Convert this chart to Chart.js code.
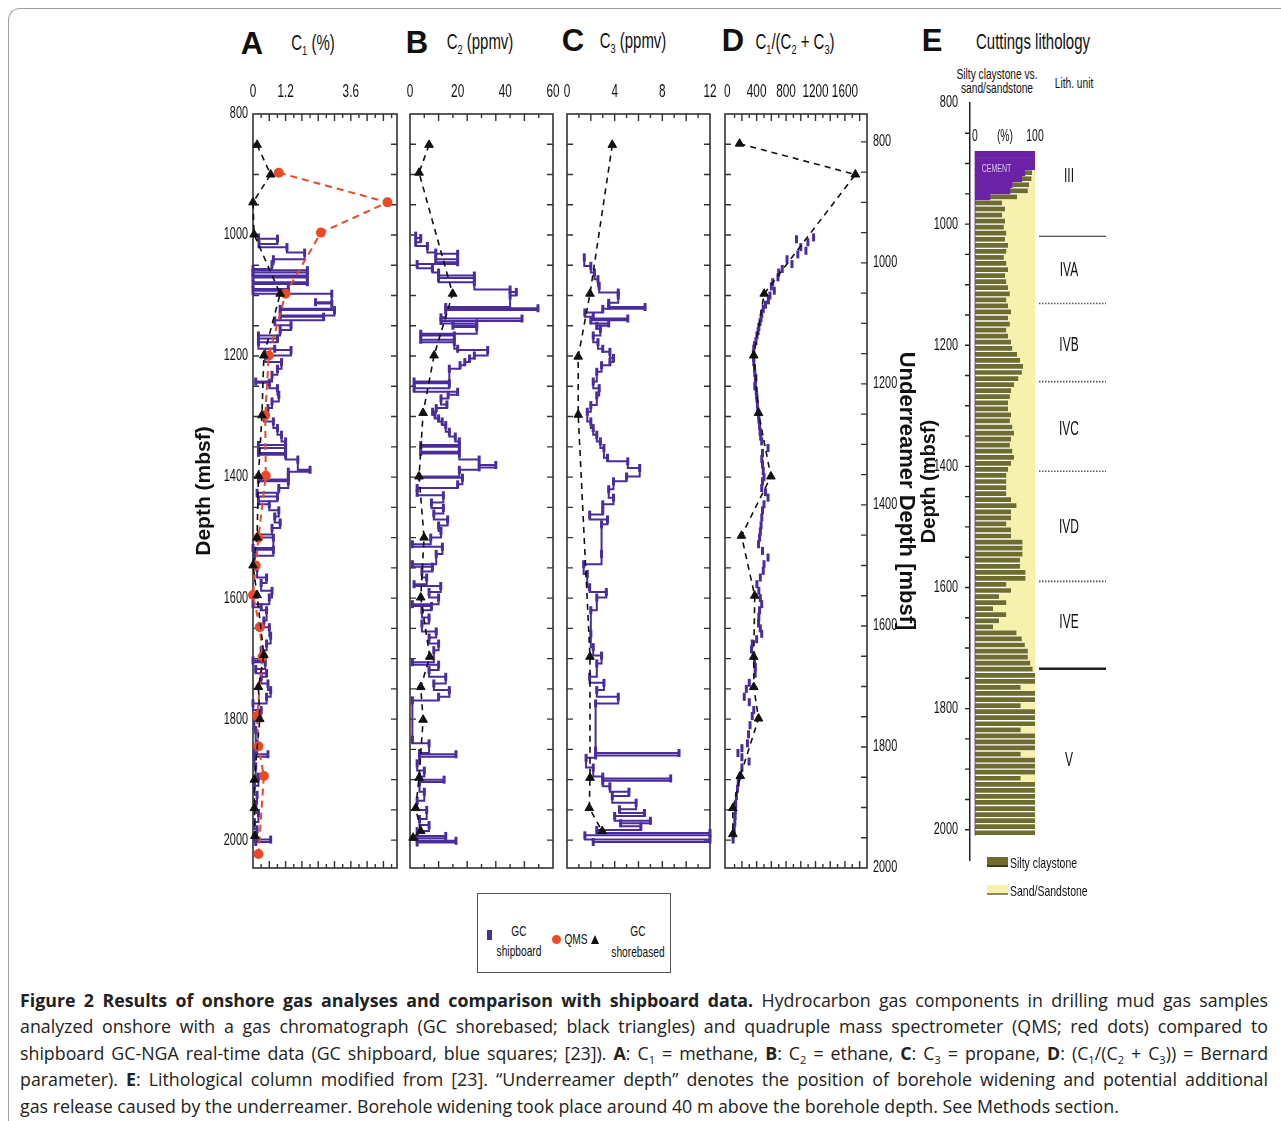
<!DOCTYPE html>
<html>
<head>
<meta charset="utf-8">
<script src="https://cdn.jsdelivr.net/npm/chart.js@4.4.1/dist/chart.umd.min.js"></script>
<style>
  body { margin: 0; background: #fff; }
  #page { position: relative; width: 1281px; height: 1121px; overflow: hidden; background: #fff;
          font-family: "Liberation Sans", Arial, sans-serif; color: #111; }
  #page canvas { position: absolute; }
  #outer { position: absolute; left: 8px; top: 8px; width: 1320px; height: 1200px;
           border-left: 1.5px solid #a0a0a0; border-top: 1.5px solid #a0a0a0; border-top-left-radius: 12px; }
  .t { position: absolute; white-space: nowrap; transform: translate(-50%, -50%) scaleX(0.68); line-height: 1; }
  .l { position: absolute; white-space: nowrap; transform-origin: left center; transform: translateY(-50%) scaleX(0.7); line-height: 1; }
  .letter { font-weight: bold; font-size: 31px; transform: translate(-50%, -50%); }
  .head { font-size: 22px; }
  .head sub, .cap sub { font-size: 62%; vertical-align: -0.35em; line-height: 0; }
  .sm { font-size: 15px; }
  #legend { position: absolute; left: 477px; top: 893px; width: 192px; height: 78px; border: 1.5px solid #555; }
  .sw { position: absolute; }
  .cap { position: absolute; left: 20px; width: 1248px; font-family: "Open Sans", sans-serif; font-size: 17.8px;
         white-space: nowrap; text-align: justify; text-align-last: justify; color: #222; line-height: 20px; }
  .cap.last { text-align-last: left; }
</style>
</head>
<body>
<div id="page">
  <div id="outer"></div>

  <div class="t letter" style="left:252px;top:43px">A</div>
  <div class="t head" style="left:313px;top:43px">C<sub>1</sub> (%)</div>
  <div class="t letter" style="left:417px;top:42px">B</div>
  <div class="t head" style="left:480px;top:42px">C<sub>2</sub> (ppmv)</div>
  <div class="t letter" style="left:573px;top:40px">C</div>
  <div class="t head" style="left:633px;top:41px">C<sub>3</sub> (ppmv)</div>
  <div class="t letter" style="left:733px;top:40px">D</div>
  <div class="t head" style="left:795px;top:42px">C<sub>1</sub>/(C<sub>2</sub> + C<sub>3</sub>)</div>
  <div class="t letter" style="left:932px;top:40px">E</div>
  <div class="t head" style="left:1033px;top:42px">Cuttings lithology</div>
  <div class="t sm" style="left:997px;top:73px">Silty claystone vs.</div>
  <div class="t sm" style="left:997px;top:87px">sand/sandstone</div>
  <div class="t sm" style="left:1074px;top:82px">Lith. unit</div>

  <canvas id="cA" width="222" height="815" style="left:190px;top:60px"></canvas>
  <canvas id="cB" width="173" height="815" style="left:395px;top:60px"></canvas>
  <canvas id="cC" width="173" height="815" style="left:552px;top:60px"></canvas>
  <canvas id="cD" width="210" height="815" style="left:710px;top:60px"></canvas>
  <canvas id="cE" width="220" height="802" style="left:900px;top:60px"></canvas>

  <div id="legend"></div>
  <div class="sw" style="left:487px;top:930px;width:5px;height:10px;background:#4a2c9d"></div>
  <div class="t sm" style="left:519px;top:930px">GC</div>
  <div class="t sm" style="left:519px;top:950px">shipboard</div>
  <div class="sw" style="left:552px;top:935px;width:9px;height:9px;border-radius:50%;background:#eb4a26"></div>
  <div class="t sm" style="left:576px;top:938px">QMS</div>
  <div class="sw" style="left:591px;top:935px;width:0;height:0;border-left:4.5px solid transparent;border-right:4.5px solid transparent;border-bottom:9px solid #111"></div>
  <div class="t sm" style="left:638px;top:930px">GC</div>
  <div class="t sm" style="left:638px;top:951px">shorebased</div>

  <div class="sw" style="left:987px;top:857px;width:21px;height:8px;background:#6f6c30;border-bottom:2px solid #3d3b18"></div>
  <div class="l sm" style="left:1010px;top:862px">Silty claystone</div>
  <div class="sw" style="left:987px;top:885px;width:21px;height:8px;background:#f6f2ae;border-bottom:2px solid #8d8a5a"></div>
  <div class="l sm" style="left:1010px;top:890px">Sand/Sandstone</div>

  <div class="cap" style="top:990px"><b>Figure 2 Results of onshore gas analyses and comparison with shipboard data.</b> Hydrocarbon gas components in drilling mud gas samples</div>
  <div class="cap" style="top:1016px">analyzed onshore with a gas chromatograph (GC shorebased; black triangles) and quadruple mass spectrometer (QMS; red dots) compared to</div>
  <div class="cap" style="top:1043px">shipboard GC-NGA real-time data (GC shipboard, blue squares; [23]). <b>A</b>: C<sub>1</sub> = methane, <b>B</b>: C<sub>2</sub> = ethane, <b>C</b>: C<sub>3</sub> = propane, <b>D</b>: (C<sub>1</sub>/(C<sub>2</sub> + C<sub>3</sub>)) = Bernard</div>
  <div class="cap" style="top:1069px">parameter). <b>E</b>: Lithological column modified from [23]. “Underreamer depth” denotes the position of borehole widening and potential additional</div>
  <div class="cap last" style="top:1096px">gas release caused by the underreamer. Borehole widening took place around 40 m above the borehole depth. See Methods section.</div>
</div>

<script>
// ---- data (depth in mbsf) ----
const depthLabels = [800, 1000, 1200, 1400, 1600, 1800, 2000];
const depthMin = 800, depthMax = 2046, underOffset = 46;

// A: C1 (%)
const aShipDepth = [1004, 1006, 1015, 1020, 1029, 1040, 1048, 1056, 1058, 1062, 1067, 1070, 1078, 1081, 1089, 1092, 1097, 1111, 1113, 1122, 1124, 1133, 1135, 1141, 1149, 1157, 1166, 1171, 1177, 1188, 1190, 1199, 1210, 1221, 1231, 1242, 1244, 1253, 1264, 1275, 1286, 1297, 1308, 1319, 1330, 1341, 1347, 1352, 1360, 1363, 1371, 1388, 1391, 1399, 1404, 1407, 1418, 1426, 1432, 1440, 1445, 1455, 1465, 1475, 1484, 1495, 1500, 1517, 1520, 1530, 1550, 1566, 1575, 1588, 1599, 1610, 1615, 1620, 1637, 1648, 1662, 1675, 1686, 1703, 1706, 1717, 1724, 1730, 1741, 1752, 1763, 1774, 1785, 1796, 1818, 1840, 1856, 1858, 1862, 1878, 1895, 1910, 1925, 1940, 1955, 1970, 1982, 1997, 1999, 2003];
const aShipC1 = [0.2, 0.9, 0.22, 1.25, 1.9, 0.75, 0.7, 0.0, 2.0, 0.0, 2.0, 0.0, 2.0, 0.0, 1.3, 0.0, 2.9, 2.3, 2.9, 1.0, 3.0, 1.0, 2.6, 0.8, 1.4, 1.0, 0.2, 0.9, 0.2, 0.8, 1.4, 0.45, 1.05, 0.9, 0.7, 0.1, 0.6, 0.9, 0.95, 0.7, 0.55, 0.4, 0.75, 0.9, 1.05, 1.2, 0.2, 1.2, 0.2, 1.2, 1.65, 2.1, 1.3, 1.3, 0.2, 1.3, 0.95, 0.15, 0.9, 0.2, 0.6, 0.95, 0.8, 1.0, 0.7, 0.2, 0.75, 0.0, 0.75, 0.05, 0.15, 0.5, 0.3, 0.7, 0.6, 0.0, 0.3, 0.5, 0.4, 0.6, 0.65, 0.5, 0.3, 0.0, 0.45, 0.1, 0.5, 0.3, 0.55, 0.65, 0.5, 0.0, 0.3, 0.05, 0.1, 0.15, 0.05, 0.55, 0.05, 0.1, 0.2, 0.05, 0.15, 0.1, 0.2, 0.05, 0.15, 0.05, 0.65, 0.1];
const aQmsDepth = [897, 946, 996, 1097, 1199, 1298, 1398, 1500, 1546, 1595, 1648, 1697, 1795, 1845, 1894, 2023];
const aQmsC1 = [0.95, 4.95, 2.5, 1.2, 0.58, 0.45, 0.47, 0.2, 0.1, 0.0, 0.25, 0.35, 0.15, 0.2, 0.4, 0.2];
const aShoreDepth = [851, 900, 946, 999, 1097, 1199, 1298, 1398, 1500, 1546, 1595, 1694, 1747, 1800, 1900, 1947, 1993];
const aShoreC1 = [0.15, 0.65, 0.0, 0.04, 1.0, 0.4, 0.33, 0.2, 0.15, 0.0, 0.15, 0.4, 0.2, 0.25, 0.05, 0.05, 0.07];

// B: C2 (ppmv)
const bShipDepth = [1001, 1005, 1012, 1018, 1029, 1031, 1040, 1045, 1048, 1055, 1062, 1067, 1071, 1078, 1090, 1094, 1100, 1119, 1121, 1124, 1136, 1138, 1142, 1146, 1150, 1152, 1163, 1166, 1173, 1177, 1188, 1190, 1199, 1204, 1210, 1215, 1221, 1242, 1245, 1253, 1259, 1264, 1270, 1280, 1286, 1292, 1297, 1303, 1308, 1314, 1325, 1333, 1341, 1347, 1350, 1358, 1361, 1371, 1380, 1384, 1388, 1399, 1401, 1412, 1418, 1426, 1430, 1442, 1451, 1460, 1470, 1480, 1489, 1500, 1511, 1515, 1527, 1544, 1548, 1556, 1566, 1577, 1580, 1590, 1599, 1610, 1613, 1620, 1632, 1642, 1655, 1665, 1675, 1686, 1706, 1710, 1719, 1730, 1741, 1752, 1763, 1769, 1834, 1840, 1856, 1858, 1862, 1873, 1885, 1895, 1900, 1904, 1920, 1935, 1950, 1965, 1975, 1985, 1993, 1997, 2001, 2004];
const bShipC2 = [2.4, 4.5, 2.4, 7.3, 10.8, 20, 10.8, 20, 3.0, 9.4, 12, 27, 12, 27, 42, 44.6, 42, 15, 53.7, 15, 13, 47, 13, 28, 18, 28, 4.5, 18.6, 4.5, 18.6, 20, 32.6, 27, 25, 23, 21, 16.5, 1.7, 16.5, 1.7, 20, 16, 13, 15.5, 11, 9.5, 10.5, 12, 13.5, 15, 16.5, 19, 20.7, 4.5, 20.7, 4.5, 20.7, 29, 36, 29, 20.7, 3.8, 22, 20, 3, 3, 14, 9, 14, 10, 15.8, 12, 13, 8.7, 1, 13.6, 11, 1, 9.4, 5, 7, 1.7, 12.9, 8, 12, 1, 9, 5, 8, 5, 11, 8, 12, 10, 1, 12, 8, 15, 10, 16.5, 12, 1, 1, 8, 4, 19.3, 4, 3, 6, 4, 14.3, 4, 6, 3, 7, 4, 8, 3, 15, 3, 19.3, 3];
const bShoreDepth = [851, 897, 1097, 1199, 1294, 1399, 1500, 1599, 1697, 1747, 1801, 1897, 1947, 1985, 1996];
const bShoreC2 = [8, 3.8, 17.9, 10.1, 5.5, 3.8, 5.9, 4.5, 8.3, 4.5, 5.5, 3.8, 2.4, 4.5, 1.3];

// C: C3 (ppmv)
const cShipDepth = [1037, 1051, 1062, 1073, 1084, 1095, 1100, 1112, 1117, 1119, 1122, 1128, 1135, 1138, 1141, 1146, 1150, 1155, 1166, 1177, 1188, 1193, 1203, 1210, 1215, 1226, 1242, 1253, 1265, 1281, 1292, 1308, 1319, 1330, 1341, 1352, 1368, 1374, 1385, 1399, 1407, 1420, 1434, 1445, 1456, 1462, 1470, 1478, 1527, 1544, 1560, 1582, 1590, 1599, 1620, 1659, 1681, 1695, 1708, 1730, 1740, 1752, 1763, 1774, 1852, 1856, 1860, 1864, 1880, 1895, 1898, 1902, 1911, 1920, 1927, 1938, 1949, 1955, 1960, 1968, 1972, 1977, 1983, 1988, 1992, 1999, 2003];
const cShipC3 = [1.45, 2.0, 2.3, 2.6, 2.7, 4.3, 4.3, 3.5, 3.5, 6.55, 3.0, 1.5, 2.2, 5.1, 2.0, 3.5, 2.5, 2.8, 2.2, 2.6, 3.0, 3.6, 3.9, 3.6, 2.9, 2.5, 2.2, 2.7, 2.5, 2.0, 1.7, 2.0, 2.2, 2.5, 2.8, 3.1, 3.4, 5.1, 6.1, 5.0, 3.9, 3.5, 3.9, 3.0, 3.0, 1.9, 3.4, 2.9, 2.9, 1.4, 1.7, 1.9, 3.3, 2.5, 2.0, 2.0, 2.2, 2.9, 2.5, 1.9, 3.1, 2.5, 4.3, 2.4, 2.4, 9.4, 2.4, 1.6, 2.2, 3.0, 8.7, 3.0, 3.6, 5.2, 3.8, 5.8, 4.4, 6.5, 4.0, 7.0, 4.5, 6.2, 2.5, 12, 1.5, 12, 2.2];
const cShoreDepth = [851, 1097, 1201, 1297, 1697, 1897, 1947, 1985];
const cShoreC3 = [3.8, 1.93, 0.94, 0.94, 1.93, 1.93, 1.87, 2.95];

// D: C1/(C2 + C3)
const dShipDepth = [1004, 1007, 1012, 1020, 1026, 1032, 1040, 1048, 1056, 1062, 1070, 1078, 1085, 1092, 1100, 1108, 1115, 1122, 1130, 1137, 1144, 1152, 1159, 1166, 1175, 1182, 1188, 1196, 1203, 1210, 1220, 1228, 1236, 1242, 1250, 1258, 1265, 1270, 1280, 1290, 1297, 1305, 1315, 1325, 1333, 1341, 1352, 1360, 1370, 1379, 1390, 1400, 1407, 1418, 1425, 1434, 1445, 1455, 1467, 1480, 1490, 1500, 1511, 1522, 1533, 1544, 1555, 1566, 1577, 1588, 1600, 1610, 1620, 1631, 1642, 1650, 1659, 1668, 1675, 1685, 1695, 1705, 1714, 1725, 1740, 1750, 1763, 1772, 1785, 1795, 1810, 1825, 1840, 1848, 1856, 1863, 1870, 1880, 1895, 1905, 1915, 1927, 1940, 1950, 1960, 1971, 1982, 1990, 1999];
const dShipRatio = [1174, 942, 1097, 1000, 1070, 960, 813, 880, 748, 700, 690, 619, 600, 640, 581, 560, 520, 490, 470, 460, 447, 430, 420, 404, 390, 370, 361, 355, 360, 361, 370, 375, 390, 383, 375, 395, 400, 404, 410, 415, 426, 430, 440, 447, 455, 469, 555, 480, 470, 480, 490, 500, 480, 469, 520, 555, 500, 480, 470, 460, 450, 440, 426, 480, 555, 500, 490, 450, 404, 430, 450, 469, 440, 430, 426, 450, 469, 400, 340, 330, 360, 370, 383, 380, 300, 260, 232, 300, 361, 340, 310, 290, 275, 200, 146, 200, 297, 200, 168, 150, 140, 125, 115, 110, 108, 103, 95, 88, 80];
const dShoreDepth = [849, 900, 1097, 1199, 1294, 1399, 1497, 1596, 1697, 1747, 1799, 1894, 1947, 1990];
const dShoreRatio = [168, 1742, 503, 361, 426, 594, 194, 374, 361, 361, 426, 178, 77, 77];

// E: cuttings lithology (% of sample)
const lithDepth = [885, 895, 905, 915, 925, 935, 945, 955, 965, 975, 985, 995, 1005, 1015, 1025, 1035, 1045, 1055, 1065, 1075, 1085, 1095, 1105, 1115, 1125, 1135, 1145, 1155, 1165, 1175, 1185, 1195, 1205, 1215, 1225, 1235, 1245, 1255, 1265, 1275, 1285, 1295, 1305, 1315, 1325, 1335, 1345, 1355, 1365, 1375, 1385, 1395, 1405, 1415, 1425, 1435, 1445, 1455, 1465, 1475, 1485, 1495, 1505, 1515, 1525, 1535, 1545, 1555, 1565, 1575, 1585, 1595, 1605, 1615, 1625, 1635, 1645, 1655, 1665, 1675, 1685, 1695, 1705, 1715, 1725, 1735, 1745, 1755, 1765, 1775, 1785, 1795, 1805, 1815, 1825, 1835, 1845, 1855, 1865, 1875, 1885, 1895, 1905, 1915, 1925, 1935, 1945, 1955, 1965, 1975, 1985, 1995, 2005];
const lithCement = [100, 100, 100, 83, 78, 62, 58, 25, 0, 0, 0, 0, 0, 0, 0, 0, 0, 0, 0, 0, 0, 0, 0, 0, 0, 0, 0, 0, 0, 0, 0, 0, 0, 0, 0, 0, 0, 0, 0, 0, 0, 0, 0, 0, 0, 0, 0, 0, 0, 0, 0, 0, 0, 0, 0, 0, 0, 0, 0, 0, 0, 0, 0, 0, 0, 0, 0, 0, 0, 0, 0, 0, 0, 0, 0, 0, 0, 0, 0, 0, 0, 0, 0, 0, 0, 0, 0, 0, 0, 0, 0, 0, 0, 0, 0, 0, 0, 0, 0, 0, 0, 0, 0, 0, 0, 0, 0, 0, 0, 0, 0, 0, 0];
const lithClay = [0, 0, 0, 12, 16, 28, 30, 45, 45, 50, 45, 50, 48, 52, 50, 55, 52, 48, 52, 55, 50, 52, 55, 58, 52, 55, 60, 55, 58, 52, 55, 60, 62, 70, 75, 80, 78, 72, 65, 60, 58, 55, 55, 60, 58, 62, 65, 60, 58, 62, 65, 60, 55, 52, 52, 52, 52, 60, 69, 60, 60, 52, 60, 60, 79, 79, 79, 75, 75, 84, 84, 52, 60, 40, 52, 30, 52, 40, 30, 69, 78, 83, 88, 88, 92, 96, 100, 100, 76, 100, 100, 76, 100, 100, 100, 76, 100, 100, 100, 76, 100, 100, 100, 76, 100, 100, 100, 100, 100, 100, 100, 100, 100];
const pctTicks = [0, 50, 100];
const pctLabels = ['0', '(%)', '100'];
const unitNames = ['III', 'IVA', 'IVB', 'IVC', 'IVD', 'IVE', 'V'];
const unitMid = [921, 1076, 1200, 1339, 1501, 1658, 1886];
const unitTop = [1020, 1131, 1260, 1408, 1590, 1734];
const unitLine = ['solid', 'dot', 'dot', 'dot', 'dot', 'thick'];

// ---- styling ----
const SANS = '"Liberation Sans", Arial, sans-serif';
const BLUE = '#4a2c9d', RED = '#eb4a26', BLACK = '#111111';
const PURPLE = '#6b22a6', OLIVE = '#6f6c30', SAND = '#f6f2ae';
Chart.defaults.font.family = SANS;
Chart.defaults.color = '#111';

function xy(depths, values) {
    return depths.map((d, i) => ({ x: values[i], y: d }));
}

// condensed text, like the figure's narrow face
function narrowText(ctx, text, x, y, align, size, sx, color) {
    ctx.save();
    ctx.translate(x, y);
    ctx.scale(sx, 1);
    ctx.font = size + 'px ' + SANS;
    ctx.fillStyle = color || '#111';
    ctx.textAlign = align;
    ctx.textBaseline = 'middle';
    ctx.fillText(text, 0, 0);
    ctx.restore();
}

// tick labels of every shown axis, drawn narrow at the scale's own tick positions
const narrowTicks = {
    id: 'narrowTicks',
    afterDraw(chart) {
        const { ctx, chartArea: a } = chart;
        Object.values(chart.scales).forEach(s => {
            if (!s.options.display) return;
            const gap = s.options.ticks.padding;
            s.ticks.forEach(t => {
                const p = s.getPixelForValue(t.value), txt = String(t.value);
                if (s.position === 'top') narrowText(ctx, txt, p, a.top - gap, 'center', 19, 0.62);
                else if (s.position === 'left') narrowText(ctx, txt, a.left - gap, p, 'right', 16, 0.68);
                else if (s.position === 'right') narrowText(ctx, txt, a.right + gap, p, 'left', 16, 0.68);
            });
        });
    }
};

function shoreSet(depths, values) {
    return {
        label: 'GC shorebased', data: xy(depths, values), showLine: true, clip: false,
        borderColor: BLACK, borderWidth: 1.6, borderDash: [6, 5],
        pointStyle: 'triangle', pointRadius: 5, pointBackgroundColor: BLACK, pointBorderColor: BLACK, pointBorderWidth: 1
    };
}

function shipSet(depths, values, withLine) {
    return {
        label: 'GC shipboard', data: xy(depths, values), showLine: withLine, stepped: withLine ? 'after' : false, clip: false,
        borderColor: BLUE, borderWidth: 2,
        pointStyle: 'line', pointRotation: 90, pointRadius: 4, pointBorderColor: BLUE, pointBorderWidth: 3
    };
}

// box round each plot, with inward tick marks
const framePlugin = {
    id: 'frame',
    beforeDatasetsDraw(chart, args, o) {
        const { ctx, chartArea: a, scales } = chart;
        const x = scales.x, yl = scales.y, yr = scales[o.right];
        ctx.save();
        ctx.strokeStyle = '#333';
        ctx.lineWidth = 1.6;
        ctx.strokeRect(a.left, a.top, a.right - a.left, a.bottom - a.top);
        ctx.lineWidth = 1.4;
        ctx.beginPath();
        for (let d = 850; d < yl.max; d += 50) {
            const p = yl.getPixelForValue(d);
            ctx.moveTo(a.left, p); ctx.lineTo(a.left + 6, p);
        }
        for (let d = Math.ceil(yr.min / 50) * 50; d < yr.max; d += 50) {
            const p = yr.getPixelForValue(d);
            if (p < a.top + 3) continue;
            ctx.moveTo(a.right, p); ctx.lineTo(a.right - 6, p);
        }
        let k = 1;
        for (let v = o.xStep; v < x.max - o.xStep * 0.3; v += o.xStep, k++) {
            const p = x.getPixelForValue(v), len = k % 2 ? 4 : 7;
            ctx.moveTo(p, a.top); ctx.lineTo(p, a.top + len);
            ctx.moveTo(p, a.bottom); ctx.lineTo(p, a.bottom - len);
        }
        ctx.stroke();
        ctx.restore();
    }
};

function makePanel(id, opt) {
    const scales = {
        x: {
            type: 'linear', position: 'top', min: opt.xMin, max: opt.xMax,
            grid: { display: false }, border: { display: false },
            ticks: { display: false, padding: 22 },
            afterBuildTicks: ax => { ax.ticks = opt.xTicks.map(v => ({ value: v })); },
            afterFit: ax => { ax.height = 54; }
        },
        y: {
            type: 'linear', min: depthMin, max: depthMax, reverse: true, display: !!opt.leftLabels,
            grid: { display: false }, border: { display: false },
            ticks: { display: false, padding: 5 },
            afterBuildTicks: ax => { ax.ticks = depthLabels.map(v => ({ value: v })); },
            afterFit: ax => { ax.width = opt.leftLabels ? 63 : 0; },
            title: { display: true, text: 'Depth (mbsf)', font: { family: SANS, size: 21, weight: 'bold' }, padding: { top: 2 } }
        }
    };
    if (opt.under) {
        scales.yu = {
            type: 'linear', position: 'right', min: depthMin - underOffset, max: depthMax - underOffset, reverse: true,
            grid: { display: false }, border: { display: false },
            ticks: { display: false, padding: 6 },
            afterBuildTicks: ax => { ax.ticks = depthLabels.map(v => ({ value: v })); },
            afterFit: ax => { ax.width = 53; },
            title: { display: true, text: 'Underreamer Depth [mbsf]', font: { family: SANS, size: 22, weight: 'bold' }, padding: { top: 1 } }
        };
    }
    return new Chart(document.getElementById(id), {
        type: 'scatter',
        data: { datasets: opt.datasets },
        options: {
            responsive: false,
            animation: false,
            layout: { padding: opt.padding },
            plugins: {
                legend: { display: false },
                tooltip: { enabled: false },
                frame: { xStep: opt.xStep, right: opt.under ? 'yu' : 'y' }
            },
            scales: scales
        },
        plugins: [framePlugin, narrowTicks]
    });
}

makePanel('cA', {
    xMin: 0, xMax: 5.3, xTicks: [0, 1.2, 3.6], xStep: 0.3, leftLabels: true,
    padding: { left: 0, right: 15, top: 0, bottom: 4 },
    datasets: [
        shoreSet(aShoreDepth, aShoreC1),
        {
            label: 'QMS', data: xy(aQmsDepth, aQmsC1), showLine: true, clip: false,
            borderColor: RED, borderWidth: 2, borderDash: [7, 5],
            pointStyle: 'circle', pointRadius: 4, pointBackgroundColor: RED, pointBorderColor: RED
        },
        shipSet(aShipDepth, aShipC1, true)
    ]
});

makePanel('cB', {
    xMin: 0, xMax: 60, xTicks: [0, 20, 40, 60], xStep: 6,
    padding: { left: 15, right: 15, top: 0, bottom: 4 },
    datasets: [shoreSet(bShoreDepth, bShoreC2), shipSet(bShipDepth, bShipC2, true)]
});

makePanel('cC', {
    xMin: 0, xMax: 12, xTicks: [0, 4, 8, 12], xStep: 1,
    padding: { left: 15, right: 15, top: 0, bottom: 4 },
    datasets: [shoreSet(cShoreDepth, cShoreC3), shipSet(cShipDepth, cShipC3, true)]
});

makePanel('cD', {
    xMin: -30, xMax: 1900, xTicks: [0, 400, 800, 1200, 1600], xStep: 100, under: true,
    padding: { left: 15, right: 0, top: 0, bottom: 4 },
    datasets: [shoreSet(dShoreDepth, dShoreRatio), shipSet(dShipDepth, dShipRatio, false)]
});

// lithology column: axis ticks, % labels, unit boundaries
const lithPlugin = {
    id: 'lith',
    afterDatasetsDraw(chart) {
        const { ctx, chartArea: a, scales: { x, y } } = chart;
        ctx.save();
        ctx.strokeStyle = '#222';
        ctx.lineWidth = 1.4;
        ctx.beginPath();
        for (let d = 850; d <= 2000; d += 50) {
            const p = y.getPixelForValue(d);
            ctx.moveTo(a.left, p); ctx.lineTo(a.left - 5, p);
        }
        ctx.stroke();

        pctTicks.forEach((v, i) => narrowText(ctx, pctLabels[i], x.getPixelForValue(v), a.top + 34, 'center', 16, 0.65));
        narrowText(ctx, 'CEMENT', x.getPixelForValue(36), y.getPixelForValue(909), 'center', 10, 0.7, '#d6c6f0');

        unitTop.forEach((d, i) => {
            const p = y.getPixelForValue(d);
            ctx.beginPath();
            ctx.setLineDash(unitLine[i] === 'dot' ? [1.5, 1.5] : []);
            ctx.lineWidth = unitLine[i] === 'thick' ? 2.5 : (unitLine[i] === 'dot' ? 1.6 : 1.2);
            ctx.strokeStyle = unitLine[i] === 'dot' ? '#555' : '#222';
            ctx.moveTo(a.right + 4, p); ctx.lineTo(a.right + 71, p);
            ctx.stroke();
        });
        ctx.setLineDash([]);
        unitNames.forEach((n, i) => narrowText(ctx, n, a.right + 34, y.getPixelForValue(unitMid[i]), 'center', 20, 0.6));
        ctx.restore();
    }
};

new Chart(document.getElementById('cE'), {
    type: 'bar',
    data: {
        datasets: [
            { label: 'Cement', data: xy(lithDepth, lithCement), backgroundColor: PURPLE, barPercentage: 1 },
            { label: 'Silty claystone', data: xy(lithDepth, lithClay), backgroundColor: OLIVE, barPercentage: 0.78 },
            { label: 'Sand/Sandstone', data: xy(lithDepth, lithDepth.map((d, i) => 100 - lithCement[i] - lithClay[i])), backgroundColor: SAND, barPercentage: 1 }
        ]
    },
    options: {
        indexAxis: 'y',
        responsive: false,
        animation: false,
        layout: { padding: { left: 0, right: 85, top: 43, bottom: 2 } },
        datasets: { bar: { categoryPercentage: 1 } },
        plugins: { legend: { display: false }, tooltip: { enabled: false } },
        scales: {
            x: { type: 'linear', min: -8.3, max: 100, stacked: true, display: false },
            y: {
                type: 'linear', min: 800, max: 2050, reverse: true, stacked: true, offset: false,
                grid: { display: false, offset: false }, border: { display: true, color: '#222', width: 1.5 },
                ticks: { display: false, padding: 12 },
                afterBuildTicks: ax => { ax.ticks = depthLabels.map(v => ({ value: v })); },
                afterFit: ax => { ax.width = 70; },
                title: { display: true, text: 'Depth (mbsf)', font: { family: SANS, size: 20, weight: 'bold' }, padding: { top: 17 } }
            }
        }
    },
    plugins: [lithPlugin, narrowTicks]
});

// fit each justified caption line inside its box
document.querySelectorAll('.cap').forEach(el => {
    let ls = 0;
    while (el.scrollWidth > el.clientWidth + 1 && ls > -1.2) {
        ls -= 0.1;
        el.style.letterSpacing = ls.toFixed(2) + 'px';
    }
});
</script>
</body>
</html>
